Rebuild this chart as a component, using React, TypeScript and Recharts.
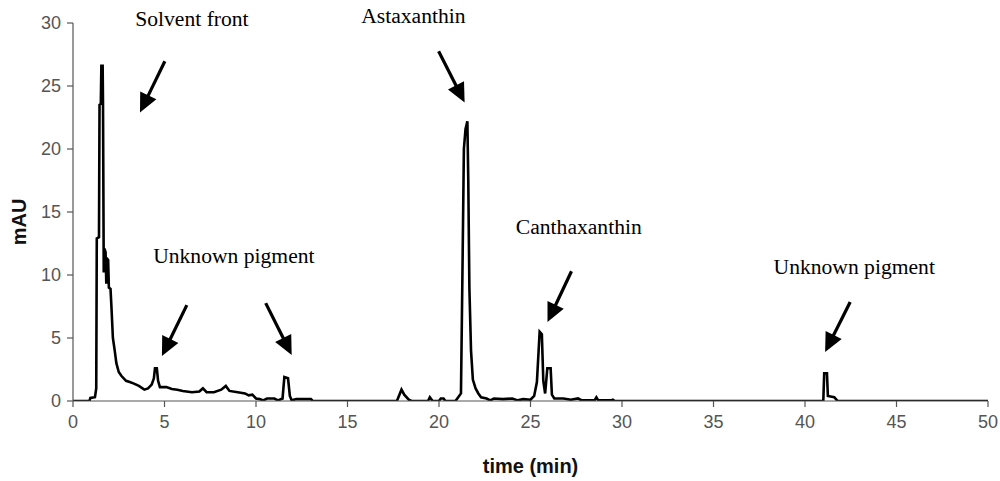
import React from 'react';
import { LineChart, Line, XAxis, YAxis, ReferenceLine, ReferenceDot, Label } from 'recharts';

// retention time (min)
const times = [
  0, 0.9, 0.95, 1.2, 1.27, 1.3, 1.42, 1.45, 1.52, 1.55, 1.62, 1.64, 1.68, 1.72, 1.78, 1.82, 1.86, 1.92, 1.96, 2.05,
  2.1, 2.18, 2.28, 2.37, 2.5, 2.64, 2.9, 3.1, 3.3, 3.6, 3.9, 4.1, 4.3, 4.42, 4.48, 4.58, 4.65, 4.75, 5.1, 5.4,
  5.7, 6.0, 6.5, 6.9, 7.1, 7.3, 7.7, 8.1, 8.35, 8.55, 9.0, 9.4, 9.6, 9.8, 10.0, 10.2, 10.4, 10.6, 11.0, 11.2,
  11.45, 11.55, 11.75, 11.85, 11.95, 12.2, 13.0, 13.1, 17.7, 17.95, 18.1, 18.35, 18.5, 19.4, 19.5, 19.65, 20.0, 20.1, 20.25, 20.35,
  20.9, 21.05, 21.2, 21.28, 21.36, 21.45, 21.55, 21.6, 21.66, 21.75, 21.85, 22.0, 22.15, 22.3, 22.6, 22.8, 23.0, 23.5, 24.0, 24.3,
  24.6, 25.0, 25.2, 25.35, 25.5, 25.62, 25.7, 25.8, 25.92, 26.1, 26.17, 26.3, 26.8, 27.2, 27.6, 27.8, 28.5, 28.6, 28.7, 29.4,
  29.5, 29.6, 41.0, 41.05, 41.2, 41.25, 41.6, 41.75, 41.8, 50,
];
// absorbance (mAU)
const mau = [
  0, 0, 0.25, 0.3, 1.0, 12.9, 13.0, 23.5, 23.6, 26.6, 26.6, 23.5, 10.2, 12.1, 11.8, 9.3, 11.3, 11.2, 9.0, 8.9,
  7.5, 5.0, 4.0, 3.0, 2.3, 2.0, 1.6, 1.5, 1.4, 1.2, 0.9, 1.0, 1.3, 1.8, 2.6, 2.6, 1.6, 1.1, 1.1, 0.95,
  0.9, 0.8, 0.7, 0.75, 1.0, 0.7, 0.7, 0.9, 1.2, 0.8, 0.7, 0.6, 0.45, 0.5, 0.2, 0.15, 0.05, 0.2, 0.2, 0.05,
  0.2, 1.9, 1.8, 0.4, 0.05, 0.15, 0.15, 0, 0, 0.9, 0.5, 0.1, 0, 0, 0.3, 0, 0, 0.2, 0.2, 0,
  0, 0.3, 0.6, 10.0, 20.0, 21.6, 22.2, 17.5, 9.0, 4.0, 1.7, 1.0, 0.6, 0.3, 0.2, 0.05, 0.2, 0.15, 0.2, 0.05,
  0.15, 0.1, 0.4, 1.5, 5.5, 5.3, 1.6, 0.6, 2.6, 2.6, 0.5, 0.2, 0.2, 0.1, 0.2, 0.05, 0.05, 0.3, 0.05, 0.05,
  0.1, 0, 0, 2.2, 2.2, 0.4, 0.3, 0.05, 0, 0,
];

const xTicks = [0, 5, 10, 15, 20, 25, 30, 35, 40, 45, 50];
const yTicks = [0, 5, 10, 15, 20, 25, 30];

// annotation texts (data coordinates: time, mAU at baseline centre)
const noteTexts = ['Solvent front', 'Astaxanthin', 'Canthaxanthin', 'Unknown pigment', 'Unknown pigment'];
const noteX = [6.5, 18.6, 27.64, 8.79, 42.69];
const noteY = [29.74, 30.0, 13.24, 10.94, 10.07];

// arrows (tail -> tip, data coordinates)
const arrowTailX = [5.02, 19.98, 27.24, 6.22, 10.53, 42.47];
const arrowTailY = [26.96, 27.75, 10.3, 7.61, 7.77, 7.85];
const arrowTipX = [3.66, 21.4, 25.93, 4.86, 11.95, 41.1];
const arrowTipY = [22.9, 23.7, 6.26, 3.57, 3.65, 3.89];

const data = times.map((t, i) => ({ t, v: mau[i] }));

const ArrowShape = (props: any) => {
  const { x1, y1, x2, y2 } = props;
  if ([x1, y1, x2, y2].some((v) => typeof v !== 'number' || isNaN(v))) return null;
  const dx = x2 - x1;
  const dy = y2 - y1;
  const len = Math.sqrt(dx * dx + dy * dy);
  const ux = dx / len;
  const uy = dy / len;
  const headLen = 19;
  const headW = 9;
  const bx = x2 - ux * headLen;
  const by = y2 - uy * headLen;
  const px = -uy;
  const py = ux;
  return (
    <g>
      <line x1={x1} y1={y1} x2={bx + ux * 2} y2={by + uy * 2} stroke="#000" strokeWidth={3.2} />
      <polygon
        points={`${x2},${y2} ${bx + px * headW},${by + py * headW} ${bx - px * headW},${by - py * headW}`}
        fill="#000"
      />
    </g>
  );
};

const sansFamily = 'Liberation Sans Narrow, Arial Narrow, Liberation Sans, Arial, sans-serif';
const tickStyle = { fontFamily: sansFamily, fontSize: 18, fill: '#555' };
const titleStyle = { fontFamily: sansFamily, fontWeight: 'bold', fontSize: 20, fill: '#111' };

export default function App() {
  return (
    <div style={{ position: 'absolute', left: 0, top: 0, width: 1000, height: 481, background: '#fff' }}>
      <LineChart
        width={1000}
        height={481}
        data={data}
        margin={{ top: 23, right: 12, left: 0, bottom: 0 }}
      >
        <XAxis
          dataKey="t"
          type="number"
          domain={[0, 50]}
          ticks={xTicks}
          height={80}
          tick={tickStyle}
          tickSize={6}
          tickMargin={8}
          axisLine={{ stroke: '#555', strokeWidth: 1.2 }}
          tickLine={{ stroke: '#555', strokeWidth: 1.2 }}
          allowDataOverflow
        >
          <Label value="time (min)" position="insideBottom" offset={8} style={titleStyle} />
        </XAxis>
        <YAxis
          type="number"
          domain={[0, 30]}
          ticks={yTicks}
          width={73}
          tick={tickStyle}
          tickSize={6}
          tickMargin={6}
          axisLine={{ stroke: '#555', strokeWidth: 1.2 }}
          tickLine={{ stroke: '#555', strokeWidth: 1.2 }}
          allowDataOverflow
        >
          <Label
            content={(p: any) => {
              const vb = p.viewBox || {};
              const cx = 19;
              const cy = (vb.y ?? 23) + (vb.height ?? 378) / 2 + 10;
              return (
                <text
                  x={cx}
                  y={cy}
                  transform={`rotate(-90, ${cx}, ${cy})`}
                  textAnchor="middle"
                  dominantBaseline="central"
                  style={titleStyle}
                >
                  mAU
                </text>
              );
            }}
          />
        </YAxis>
        <Line
          type="linear"
          dataKey="v"
          stroke="#000"
          strokeWidth={2.6}
          dot={false}
          activeDot={false}
          isAnimationActive={false}
          strokeLinejoin="miter"
        />
        {arrowTailX.map((tx, i) => (
          <ReferenceLine
            key={`arrow-${i}`}
            segment={[
              { x: tx, y: arrowTailY[i] },
              { x: arrowTipX[i], y: arrowTipY[i] },
            ]}
            ifOverflow="visible"
            shape={ArrowShape}
          />
        ))}
        {noteTexts.map((txt, i) => (
          <ReferenceDot
            key={`note-${i}`}
            x={noteX[i]}
            y={noteY[i]}
            r={0}
            ifOverflow="visible"
            shape={(p: any) => (
              <text
                x={p.cx}
                y={p.cy}
                textAnchor="middle"
                style={{ fontFamily: 'Liberation Serif, Times New Roman, serif', fontSize: 21.6, fill: '#000' }}
              >
                {txt}
              </text>
            )}
          />
        ))}
      </LineChart>
    </div>
  );
}
